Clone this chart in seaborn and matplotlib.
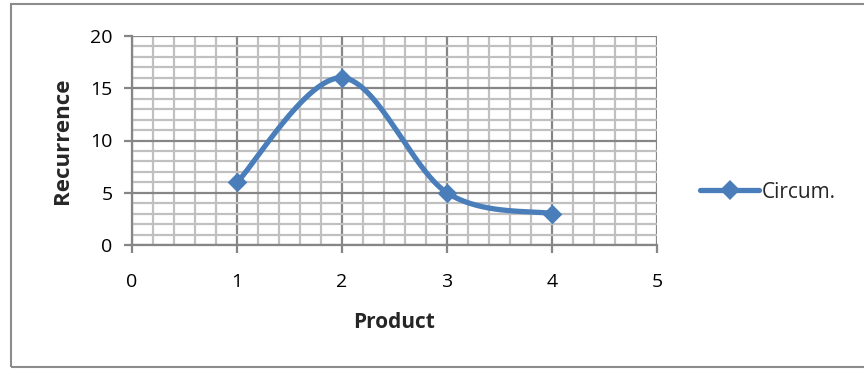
import numpy as np
import pandas as pd
import seaborn as sns
import matplotlib
matplotlib.use("Agg")
import matplotlib.pyplot as plt
from matplotlib.ticker import MultipleLocator
from matplotlib.lines import Line2D

products = [1, 2, 3, 4]
recurrence = [6, 16, 5, 3]
series_name = "Circum."
x_ticks = [0, 1, 2, 3, 4, 5]
y_ticks = [0, 5, 10, 15, 20]

sns.set_theme(style="white")
plt.rcParams['font.family'] = ['Open Sans', 'DejaVu Sans']

blue = "#4a7ebb"

def excel_smooth(x, y, n=60):
    pts = np.column_stack([x, y]).astype(float)
    ext = np.vstack([pts[0], pts, pts[-1]])
    out = []
    for i in range(1, len(ext) - 2):
        p0, p1, p2, p3 = ext[i - 1], ext[i], ext[i + 1], ext[i + 2]
        c1 = p1 + (p2 - p0) / 6.0
        c2 = p2 - (p3 - p1) / 6.0
        t = np.linspace(0, 1, n)[:, None]
        seg = ((1 - t) ** 3) * p1 + 3 * ((1 - t) ** 2) * t * c1 + 3 * (1 - t) * t ** 2 * c2 + t ** 3 * p2
        out.append(seg if i == 1 else seg[1:])
    return np.vstack(out)

df = pd.DataFrame({"Product": products, "Recurrence": recurrence})
curve = excel_smooth(df["Product"].values, df["Recurrence"].values)
cdf = pd.DataFrame({"x": curve[:, 0], "y": curve[:, 1]})

fig = plt.figure(figsize=(8.64, 3.69), dpi=100)
ax = fig.add_axes([132 / 864, 1 - 245 / 369, (657 - 132) / 864, (245 - 36) / 369])

ax.set_xlim(0, 5)
ax.set_ylim(0, 20)
ax.xaxis.set_major_locator(MultipleLocator(1))
ax.xaxis.set_minor_locator(MultipleLocator(0.2))
ax.yaxis.set_major_locator(MultipleLocator(5))
ax.yaxis.set_minor_locator(MultipleLocator(1))
ax.grid(which="minor", color="#c0c0c0", linewidth=1.6)
ax.grid(which="major", color="#868686", linewidth=1.6)
ax.set_axisbelow(True)

sns.lineplot(data=cdf, x="x", y="y", ax=ax, color=blue, linewidth=3.8,
             sort=False, estimator=None, solid_capstyle="round")
sns.scatterplot(data=df, x="Product", y="Recurrence", ax=ax, color=blue,
                marker="D", s=100, edgecolor=blue, linewidth=0, zorder=5)

for s in ax.spines.values():
    s.set_visible(False)
ax.spines["left"].set_visible(True)
ax.spines["bottom"].set_visible(True)
ax.spines["left"].set_color("#868686")
ax.spines["bottom"].set_color("#868686")
ax.spines["left"].set_linewidth(1.6)
ax.spines["bottom"].set_linewidth(1.6)

ax.set_xticks(x_ticks)
ax.set_yticks(y_ticks)
ax.set_xticklabels([str(v) for v in x_ticks])
ax.set_yticklabels([str(v) for v in y_ticks])
ax.tick_params(axis="both", which="major", direction="out", length=6, width=1.6,
               color="#868686", labelsize=14, labelcolor="black", bottom=True, left=True)
ax.tick_params(axis="x", pad=14)
ax.tick_params(axis="y", pad=8)
ax.tick_params(which="minor", length=0)

ax.set_xlabel("Product", fontsize=15, fontweight="bold", labelpad=15)
ax.set_ylabel("Recurrence", fontsize=16, fontweight="bold", labelpad=12)

handle = Line2D([], [], color=blue, linewidth=3.8, marker="D", markersize=10,
                markeredgewidth=0, solid_capstyle="round")
fig.legend([handle], [series_name], loc="center left",
           bbox_to_anchor=(690 / 864, 1 - 192 / 369), frameon=False,
           fontsize=15, handlelength=2.8, handletextpad=0.15, borderpad=0)

border = plt.Rectangle((11 / 864, 2 / 369), 1.0, 363 / 369, transform=fig.transFigure,
                       fill=False, edgecolor="#8c8c8c", linewidth=1.5)
fig.add_artist(border)

fig.savefig("out.png", dpi=100)
